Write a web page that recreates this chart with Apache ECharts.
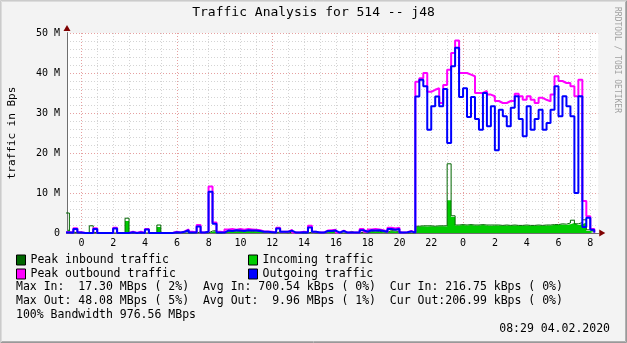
<!DOCTYPE html>
<html><head><meta charset="utf-8">
<script src="https://cdn.jsdelivr.net/npm/echarts@6/dist/echarts.min.js"></script>
<style>html,body{margin:0;padding:0;background:#f3f3f3}#c{width:627px;height:343px}</style>
</head><body><div id="c"></div>
<script>
// ---- data (values in M Bps), 15-minute steps starting at hour -1 (23:00 previous day)
const startHour = -1;
const stepHours = 0.25;
const incoming = [
 0.8,0.1,0.05,0,0,0,0.2,0.1,0,0,
 0,0,0,0,0,3.0,0,0,0,0,
 0,0,0,1.5,0,0,0,0,0,0,
 0,0,0,0.2,0,0,0.3,0.5,0,0,
 0.4,0.3,0.4,0.3,0.4,0.5,0.3,0.4,0.3,0.2,
 0.2,0.1,0,0.2,0.1,0,0.1,0,0,0,
 0,0.1,0,0,0,0.2,0.3,0.2,0,0,
 0,0.2,0,0,0.1,0,0.3,0.4,0.3,0.2,
 0.1,0.5,0.4,0.3,0,0,0,0,1.6,1.7,
 1.6,1.7,1.6,1.7,1.7,1.6,8.2,4.0,1.9,2.0,
 1.9,2.0,1.9,1.9,2.0,1.9,1.8,1.9,1.9,1.8,
 1.9,1.8,1.9,1.8,1.8,1.9,1.8,1.8,1.9,1.8,
 1.9,1.9,2.0,2.0,2.1,2.0,2.2,2.5,2.0,2.2,
 2.6,0.5,0.3,0.1
];
const peakIn = [
 5.0,0.2,0.1,0,0,0,1.8,0.1,0,0,
 0,0,0,0,0,3.7,0,0,0,0,
 0,0,0,2.0,0,0,0,0,0,0,
 0,0,0,0.3,0,0,0.5,0.6,0,0,
 0.5,0.4,0.5,0.4,0.5,0.6,0.4,0.5,0.4,0.3,
 0.3,0.2,0,0.3,0.2,0,0.2,0,0,0,
 0,0.2,0,0,0,0.3,0.4,0.3,0,0,
 0,0.4,0,0,0.2,0,0.4,0.5,0.4,0.3,
 0.2,0.6,0.5,0.4,0,0,0,0,1.7,1.8,
 1.8,1.8,1.7,1.8,1.8,1.8,17.3,4.3,2.0,2.1,
 2.0,2.1,2.0,2.0,2.1,2.0,2.0,2.0,2.0,1.9,
 2.0,1.9,2.0,1.9,1.9,2.0,1.9,1.9,2.0,1.9,
 2.0,2.0,2.1,2.1,2.3,2.2,2.5,3.2,2.3,2.6,
 3.3,0.8,0.4,0.1
];
const outgoing = [
 0.1,0.05,1.0,0.1,0,0,0,1.0,0,0,
 0,0,1.1,0,0,0,0.2,0,0.1,0,
 0.9,0,0,0,0,0,0,0.2,0.1,0.3,
 0.7,0.1,0.1,1.6,0.1,0.3,10.3,2.3,0.1,0.1,
 0.6,0.5,0.7,0.6,0.5,0.7,0.6,0.6,0.5,0.3,
 0.3,0.2,0.1,1.1,0.3,0.3,0.6,0.1,0.1,0.2,
 0.1,1.4,0.3,0.1,0.1,0.5,0.5,0.6,0.1,0.5,
 0.1,0.1,0.1,0.1,0.7,0.3,0.7,0.6,0.7,0.5,
 0.3,1.0,0.8,1.0,0.1,0.2,0.4,0.1,34.1,38.3,
 36.7,25.8,31.7,34.1,31.7,36.0,22.5,41.7,46.3,34.0,
 36.2,29.0,34.0,28.5,25.8,35.0,26.7,31.7,20.7,30.8,
 29.2,26.7,31.3,34.2,28.5,24.2,31.7,25.8,28.5,30.8,
 25.8,27.5,30.8,36.7,29.2,34.2,31.7,29.2,10.0,34.2,
 1.5,3.8,0.8,0.1
];
const peakOut = [
 0.2,0.1,1.2,0.2,0,0,0,1.2,0,0,
 0,0,1.3,0,0,0,0.3,0,0.3,0,
 1.0,0,0,0,0,0,0,0.3,0.1,0.4,
 0.9,0.3,0.1,2.0,0.1,0.3,11.6,2.6,0.3,0.1,
 0.9,1.0,0.8,1.0,0.8,1.0,0.9,0.8,0.7,0.4,
 0.4,0.3,0.1,1.3,0.3,0.3,0.8,0.1,0.1,0.3,
 0.2,1.8,0.3,0.1,0.1,0.6,0.7,0.8,0.1,0.6,
 0.1,0.1,0.1,0.1,1.0,0.3,0.9,1.0,0.9,0.7,
 0.3,1.3,1.1,1.3,0.1,0.2,0.5,0.1,37.8,38.7,
 40.0,35.3,35.8,36.2,32.5,37.0,40.8,45.0,48.1,40.0,
 40.0,39.6,39.2,35.0,35.0,35.5,34.6,34.2,33.0,32.5,
 32.5,33.0,33.0,34.8,34.2,33.3,34.2,33.3,32.5,33.8,
 33.3,32.9,34.6,39.2,38.0,37.5,37.5,36.7,34.2,38.3,
 8.0,4.2,1.0,0.1
];
const yTickLabels = ['0','10 M','20 M','30 M','40 M','50 M'];
const seriesNames = ['Peak inbound traffic','Incoming traffic','Peak outbound traffic','Outgoing traffic'];
const seriesColors = ['#006600','#00CC00','#FF00FF','#0000FF'];
const titleText = 'Traffic Analysis for 514 -- j48';
const yAxisTitle = 'traffic in Bps';
const statLines = [
 'Max In:  17.30 MBps ( 2%)  Avg In: 700.54 kBps ( 0%)  Cur In: 216.75 kBps ( 0%)',
 'Max Out: 48.08 MBps ( 5%)  Avg Out:  9.96 MBps ( 1%)  Cur Out:206.99 kBps ( 0%)',
 '100% Bandwidth 976.56 MBps'
];
const dateText = '08:29 04.02.2020';
const sideText = 'RRDTOOL / TOBI OETIKER';

// ---- layout
const FONT = 'DejaVu Sans Mono';
const W = 627, H = 343;
const plotTop = 33, plotBottom = 233, zeroX = 81.5, pxH = 15.9;
const plotLeft = 67, plotRight = zeroX + pxH * 32.5;
const minorC = '#d4d4d4', majorC = '#e6a0a0', axisC = '#6e6e6e', arrowC = '#7f0000';

const hours = incoming.map((_, i) => startHour + stepHours * i);
const pairs = arr => arr.map((v, i) => [hours[i], v]);

const chart = echarts.init(document.getElementById('c'), null, {renderer: 'canvas'});
const gBase = {top: plotTop, height: plotBottom - plotTop};
const hiddenY = gi => ({gridIndex: gi, type: 'value', position: 'left', min: 0, max: 50, show: false});
const dotted = c => ({show: true, lineStyle: {color: c, width: 1, type: [1, 2]}});

const option = {
  backgroundColor: '#f3f3f3',
  animation: false,
  grid: [
    Object.assign({left: plotLeft, width: plotRight - plotLeft, show: true, backgroundColor: '#ffffff', borderWidth: 0}, gBase),
    Object.assign({left: zeroX, width: pxH * 32}, gBase),
    Object.assign({left: zeroX, width: pxH * 30}, gBase),
    Object.assign({left: zeroX, width: pxH * 32}, gBase)
  ],
  xAxis: [
    {gridIndex: 0, type: 'value', position: 'bottom', min: -0.9, max: 32.5, z: 3,
      axisLine: {show: true, onZero: false, lineStyle: {color: axisC, width: 1}},
      axisTick: {show: false}, axisLabel: {show: false}, splitLine: {show: false}},
    {gridIndex: 0, type: 'value', position: 'bottom', min: -0.9, max: 32.5, z: 1,
      axisLine: {show: true, onZero: false, symbol: ['none', 'triangle'], symbolSize: [7, 6], symbolOffset: [0, 4],
        lineStyle: {color: arrowC, width: 1}},
      axisTick: {show: false}, axisLabel: {show: false}, splitLine: {show: false}},
    {gridIndex: 1, type: 'value', position: 'bottom', min: 0, max: 32, interval: 1,
      axisLine: {show: false}, axisTick: {show: false}, axisLabel: {show: false}, splitLine: dotted(minorC)},
    {gridIndex: 2, type: 'value', position: 'bottom', min: 0, max: 30, interval: 6,
      axisLine: {show: false}, axisTick: {show: false}, axisLabel: {show: false}, splitLine: dotted(majorC)},
    {gridIndex: 3, type: 'value', position: 'bottom', min: 0, max: 32, interval: 2,
      axisLine: {show: false}, axisTick: {show: false}, splitLine: {show: false},
      axisLabel: {show: true, margin: 5, color: '#000', fontFamily: FONT, fontSize: 10,
        formatter: v => String(v % 24)}}
  ],
  yAxis: [
    {gridIndex: 0, type: 'value', position: 'left', min: 0, max: 50, interval: 2,
      axisLine: {show: false}, axisTick: {show: false}, axisLabel: {show: false}, splitLine: dotted(minorC)},
    {gridIndex: 0, type: 'value', position: 'left', min: 0, max: 50, interval: 10, z: 3,
      axisLine: {show: true, onZero: false, lineStyle: {color: axisC, width: 1}}, axisTick: {show: false},
      axisLabel: {show: true, margin: 7, color: '#000', fontFamily: FONT, fontSize: 10,
        formatter: v => yTickLabels[Math.round(v / 10)]},
      splitLine: dotted(majorC)},
    {gridIndex: 0, type: 'value', position: 'left', min: 0, max: 50, z: 1,
      axisLine: {show: true, onZero: false, symbol: ['none', 'triangle'], symbolSize: [7, 6], symbolOffset: [0, 5],
        lineStyle: {color: arrowC, width: 1}},
      axisTick: {show: false}, axisLabel: {show: false}, splitLine: {show: false}},
    hiddenY(1), hiddenY(2), hiddenY(3)
  ],
  legend: [
    {left: 11, top: 248, orient: 'vertical', itemGap: 0, itemWidth: 9, itemHeight: 10, icon: 'rect',
      selectedMode: false, data: [seriesNames[0], seriesNames[2]],
      itemStyle: {borderColor: '#000', borderWidth: 1},
      textStyle: {fontFamily: FONT, fontSize: 11.5, color: '#000', lineHeight: 14}},
    {left: 243, top: 248, orient: 'vertical', itemGap: 0, itemWidth: 9, itemHeight: 10, icon: 'rect',
      selectedMode: false, data: [seriesNames[1], seriesNames[3]],
      itemStyle: {borderColor: '#000', borderWidth: 1},
      textStyle: {fontFamily: FONT, fontSize: 11.5, color: '#000', lineHeight: 14}}
  ],
  series: [
    {name: seriesNames[1], type: 'line', step: 'end', data: pairs(incoming), xAxisIndex: 0, yAxisIndex: 0,
      symbol: 'none', z: 2, color: seriesColors[1],
      lineStyle: {width: 0, color: seriesColors[1]}, areaStyle: {color: seriesColors[1], opacity: 1}},
    {name: seriesNames[0], type: 'line', step: 'end', data: pairs(peakIn), xAxisIndex: 0, yAxisIndex: 0,
      symbol: 'none', z: 3, color: seriesColors[0], lineStyle: {width: 1, color: seriesColors[0]}},
    {name: seriesNames[2], type: 'line', step: 'end', data: pairs(peakOut), xAxisIndex: 0, yAxisIndex: 0,
      symbol: 'none', z: 4, color: seriesColors[2], lineStyle: {width: 2, color: seriesColors[2]}},
    {name: seriesNames[3], type: 'line', step: 'end', data: pairs(outgoing), xAxisIndex: 0, yAxisIndex: 0,
      symbol: 'none', z: 5, color: seriesColors[3], lineStyle: {width: 2, color: seriesColors[3]}}
  ],
  graphic: [
    {type: 'polyline', silent: true, shape: {points: [[0.5, H - 1], [0.5, 0.5], [W - 1, 0.5]]},
      style: {stroke: '#cbcbcb', lineWidth: 1, fill: null}},
    {type: 'polyline', silent: true, shape: {points: [[1.5, H - 2], [1.5, 1.5], [W - 2, 1.5]]},
      style: {stroke: '#dcdcdc', lineWidth: 1, fill: null}},
    {type: 'polyline', silent: true, shape: {points: [[0.5, H - 0.5], [W - 0.5, H - 0.5], [W - 0.5, 0.5]]},
      style: {stroke: '#999999', lineWidth: 1, fill: null}},
    {type: 'polyline', silent: true, shape: {points: [[1.5, H - 1.5], [W - 1.5, H - 1.5], [W - 1.5, 1.5]]},
      style: {stroke: '#b0b0b0', lineWidth: 1, fill: null}},
    {type: 'text', x: W / 2, y: 13, silent: true,
      style: {text: titleText, font: '13px "' + FONT + '"', fill: '#000', align: 'center', verticalAlign: 'middle'}},
    {type: 'text', x: 12, y: 133, rotation: Math.PI / 2, silent: true,
      style: {text: yAxisTitle, font: '11px "' + FONT + '"', fill: '#000', align: 'center', verticalAlign: 'middle'}},
    {type: 'text', x: 617, y: 60, rotation: -Math.PI / 2, silent: true,
      style: {text: sideText, font: '8px "' + FONT + '"', fill: '#a0a0a0', align: 'center', verticalAlign: 'middle'}},
    {type: 'text', x: 16, y: 287, silent: true,
      style: {text: statLines[0], font: '11.5px "' + FONT + '"', fill: '#000', align: 'left', verticalAlign: 'middle'}},
    {type: 'text', x: 16, y: 301, silent: true,
      style: {text: statLines[1], font: '11.5px "' + FONT + '"', fill: '#000', align: 'left', verticalAlign: 'middle'}},
    {type: 'text', x: 16, y: 315, silent: true,
      style: {text: statLines[2], font: '11.5px "' + FONT + '"', fill: '#000', align: 'left', verticalAlign: 'middle'}},
    {type: 'text', x: 610, y: 329, silent: true,
      style: {text: dateText, font: '11.5px "' + FONT + '"', fill: '#000', align: 'right', verticalAlign: 'middle'}}
  ]
};
chart.setOption(option);
</script></body></html>
